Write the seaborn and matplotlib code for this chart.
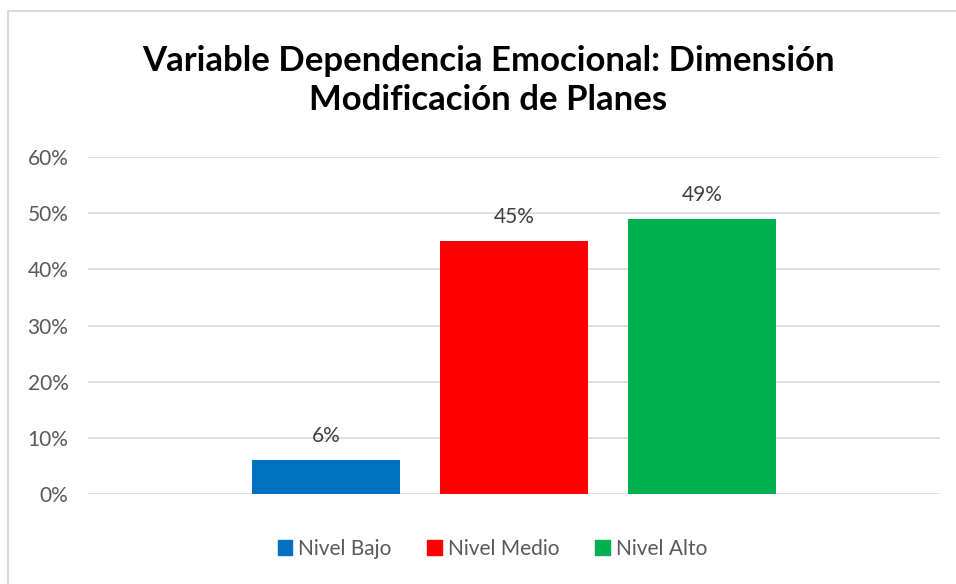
import matplotlib
matplotlib.use("Agg")
import matplotlib.pyplot as plt
import seaborn as sns
import pandas as pd
from matplotlib.patches import Patch
from matplotlib.lines import Line2D

# Data
niveles = ["Nivel Bajo", "Nivel Medio", "Nivel Alto"]
porcentajes = [6, 45, 49]
colores = ["#0070C0", "#FF0000", "#00B050"]
titulo = "Variable Dependencia Emocional: Dimensión\nModificación de Planes"

df = pd.DataFrame({"nivel": niveles, "pct": porcentajes})

sns.set_style("white")
plt.rcParams['font.family'] = ['Lato', 'DejaVu Sans']

fig = plt.figure(figsize=(9.56, 5.84), dpi=100)
ax = fig.add_axes([0.092, 0.154, 0.891, 0.577])

sns.barplot(data=df, x="nivel", y="pct", hue="nivel", order=niveles,
            palette=colores, width=0.79, legend=False, ax=ax, saturation=1,
            linewidth=0)

ax.set_xlim(-1.266, 3.266)
ax.set_ylim(0, 60)
ax.set_yticks(range(0, 61, 10))
ax.set_yticklabels([f"{v}%" for v in range(0, 61, 10)], fontsize=15, color="#595959")
ax.tick_params(axis="y", length=0, pad=14)
ax.set_xticks([])
ax.set_xlabel("")
ax.set_ylabel("")
ax.grid(axis="y", color="#D9D9D9", linewidth=1.2)
ax.set_axisbelow(True)
for s in ax.spines.values():
    s.set_visible(False)

for i, v in enumerate(porcentajes):
    ax.text(i, v + 2.5, f"{v}%", ha="center", va="bottom", fontsize=15, color="#404040")

fig.text(0.511, 0.862, titulo, ha="center", va="center", fontsize=25,
         fontweight="bold", color="black", linespacing=1.3)

handles = [Patch(facecolor=c, edgecolor=c) for c in colores]
fig.legend(handles, niveles, loc="center", bbox_to_anchor=(0.515, 0.06), ncol=3,
           frameon=False, fontsize=15, handlelength=0.7, handleheight=0.7,
           handletextpad=0.3, columnspacing=1.7, labelcolor="#595959")

# chart area border (top and left only visible)
fig.add_artist(Line2D([8 / 956, 1], [1 - 11 / 584, 1 - 11 / 584], color="#D9D9D9",
                      linewidth=1.5, transform=fig.transFigure))
fig.add_artist(Line2D([8 / 956, 8 / 956], [0, 1 - 11 / 584], color="#D9D9D9",
                      linewidth=1.5, transform=fig.transFigure))

fig.savefig("out.png", dpi=100)
